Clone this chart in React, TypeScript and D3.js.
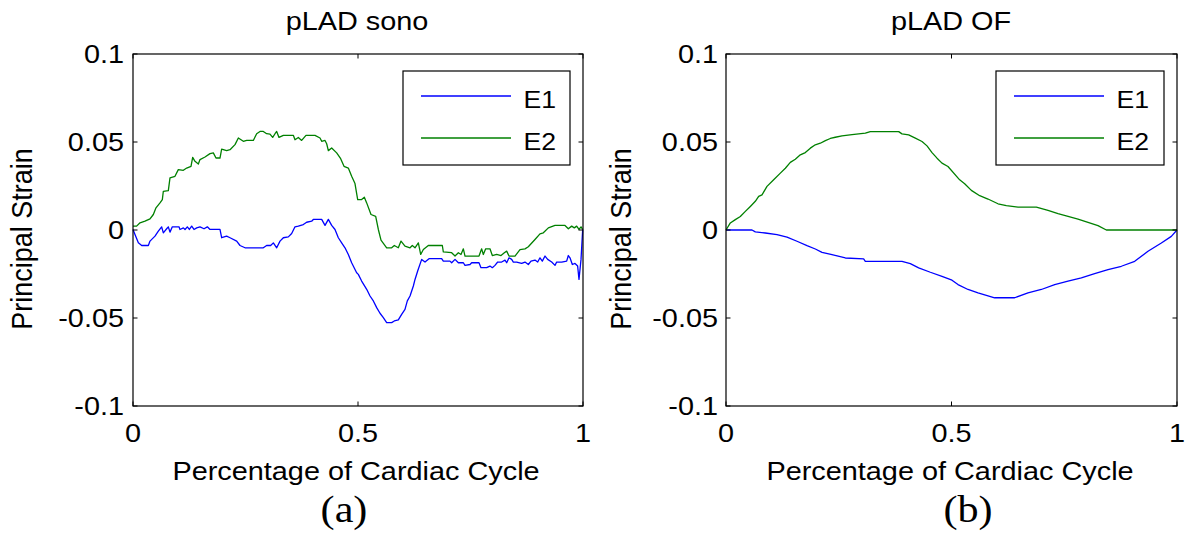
import React from 'react';
import * as d3 from 'd3';

// ---- data ----
const xTicks = [0, 0.5, 1];
const xTickLabels = ['0', '0.5', '1'];
const yTicks = [-0.1, -0.05, 0, 0.05, 0.1];
const yTickLabels = ['-0.1', '-0.05', '0', '0.05', '0.1'];
const seriesNames = ['E1', 'E2'];
const panelTitles = ['pLAD sono', 'pLAD OF'];
const panelTags = ['(a)', '(b)'];
const xLabel = 'Percentage of Cardiac Cycle';
const yLabel = 'Principal Strain';

const sonoE1: [number, number][] = [
  [0, 0.0003], [0.0044, -0.0026], [0.0119, -0.0073], [0.0193, -0.0088], [0.0341, -0.0088], [0.0378, -0.0063],
  [0.0489, -0.0035], [0.0563, -0.0007], [0.0637, 0.0018], [0.0674, -0.0016], [0.0748, 0.0007], [0.0785, 0.0018],
  [0.0822, -0.0012], [0.0874, 0.0018], [0.1022, 0.0018], [0.1044, 0.0003], [0.1119, 0.0012], [0.1156, 0.0003],
  [0.1207, 0.0018], [0.1252, 0.0003], [0.1304, 0.0022], [0.1356, 0.0003], [0.1415, 0.0012], [0.1489, 0.0018],
  [0.1578, 0.0007], [0.1652, 0.0018], [0.1711, 0.0003], [0.1933, 0.0003], [0.197, -0.0044], [0.2081, -0.0035],
  [0.2156, -0.0044], [0.2304, -0.0063], [0.2378, -0.0088], [0.2489, -0.0101], [0.2896, -0.0101], [0.297, -0.0088],
  [0.3059, -0.0088], [0.3119, -0.0073], [0.3193, -0.0101], [0.3267, -0.0063], [0.3341, -0.0044], [0.3452, -0.0039],
  [0.3526, -0.002], [0.36, 0.0018], [0.3674, 0.0022], [0.3785, 0.0031], [0.3859, 0.0044], [0.397, 0.005],
  [0.4007, 0.006], [0.4193, 0.006], [0.4267, 0.0026], [0.4341, 0.006], [0.4415, 0.0026], [0.4489, 0.0003],
  [0.4563, -0.0044], [0.4637, -0.0073], [0.4711, -0.0101], [0.4785, -0.0139], [0.4859, -0.0186], [0.497, -0.0243],
  [0.5007, -0.0252], [0.5081, -0.029], [0.5193, -0.0337], [0.5267, -0.0375], [0.5341, -0.0403], [0.5415, -0.0441],
  [0.5489, -0.0473], [0.5563, -0.0498], [0.5637, -0.0526], [0.5748, -0.0526], [0.5807, -0.0517], [0.5896, -0.0511],
  [0.597, -0.0479], [0.6044, -0.0451], [0.6096, -0.0403], [0.6156, -0.0375], [0.623, -0.0318], [0.6267, -0.0281],
  [0.6326, -0.0233], [0.6415, -0.0167], [0.6489, -0.0182], [0.6578, -0.0163], [0.6859, -0.0163], [0.6896, -0.0177],
  [0.7044, -0.0177], [0.7081, -0.0186], [0.7156, -0.0167], [0.723, -0.0186], [0.7341, -0.0186], [0.7378, -0.0201],
  [0.7489, -0.0196], [0.7526, -0.0186], [0.7689, -0.0186], [0.7733, -0.0214], [0.7859, -0.0214], [0.7933, -0.0205],
  [0.7985, -0.0214], [0.8044, -0.0201], [0.8104, -0.0182], [0.8193, -0.0182], [0.8267, -0.0171], [0.8304, -0.0186],
  [0.8356, -0.0158], [0.8415, -0.0167], [0.8452, -0.0182], [0.8526, -0.0182], [0.8637, -0.019], [0.8711, -0.0182],
  [0.8785, -0.0196], [0.8844, -0.0177], [0.8933, -0.0171], [0.8993, -0.0182], [0.9044, -0.0158], [0.9096, -0.0177],
  [0.9156, -0.0148], [0.9215, -0.0167], [0.9304, -0.0182], [0.9378, -0.0201], [0.9415, -0.0182], [0.9526, -0.0182],
  [0.9637, -0.0177], [0.9674, -0.0145], [0.9711, -0.0158], [0.9763, -0.0196], [0.9822, -0.019], [0.9881, -0.0205],
  [0.9911, -0.0281], [0.9956, -0.0167], [0.9993, 0.0003],
];

const sonoE2: [number, number][] = [
  [0, 0.0022], [0.008, 0.0022], [0.0156, 0.0041], [0.0267, 0.005], [0.0378, 0.0063], [0.0452, 0.0088],
  [0.0511, 0.0126], [0.06, 0.0154], [0.0652, 0.0173], [0.0674, 0.022], [0.0785, 0.0224], [0.0822, 0.0296],
  [0.0933, 0.0305], [0.1007, 0.0343], [0.1119, 0.0339], [0.1193, 0.0352], [0.1289, 0.0362], [0.1326, 0.0413],
  [0.1378, 0.039], [0.1452, 0.0375], [0.1489, 0.04], [0.16, 0.0415], [0.1711, 0.0434], [0.1785, 0.0438],
  [0.1844, 0.0409], [0.1933, 0.0409], [0.197, 0.046], [0.2081, 0.0451], [0.2156, 0.0456], [0.2267, 0.0485],
  [0.2341, 0.0523], [0.2452, 0.0504], [0.2526, 0.0509], [0.2674, 0.0509], [0.2748, 0.0547], [0.2822, 0.056],
  [0.2896, 0.056], [0.297, 0.0547], [0.3044, 0.0545], [0.3104, 0.0526], [0.3156, 0.0547], [0.3193, 0.056],
  [0.3244, 0.0526], [0.3341, 0.0538], [0.3563, 0.0538], [0.36, 0.0513], [0.3674, 0.0526], [0.3748, 0.0509],
  [0.3844, 0.0538], [0.4044, 0.0538], [0.4156, 0.0523], [0.4193, 0.0504], [0.4267, 0.0509], [0.4304, 0.049],
  [0.4341, 0.0451], [0.4415, 0.0466], [0.4526, 0.0438], [0.4615, 0.0405], [0.4689, 0.0362], [0.4785, 0.0352],
  [0.4859, 0.0305], [0.4933, 0.0264], [0.4993, 0.0173], [0.5081, 0.0173], [0.5141, 0.0186], [0.5193, 0.0154],
  [0.5289, 0.0088], [0.5393, 0.0078], [0.5452, 0.0003], [0.5511, -0.0058], [0.5637, -0.0101], [0.5748, -0.0101],
  [0.5807, -0.0088], [0.5896, -0.0101], [0.5956, -0.0063], [0.6044, -0.0092], [0.6156, -0.0101], [0.6207, -0.0088],
  [0.6267, -0.0101], [0.6341, -0.0073], [0.6393, -0.0139], [0.6452, -0.0111], [0.6563, -0.0088], [0.6874, -0.0088],
  [0.6896, -0.0124], [0.7081, -0.0129], [0.7156, -0.0148], [0.723, -0.0129], [0.7289, -0.0139], [0.7341, -0.0107],
  [0.7378, -0.0148], [0.7689, -0.0148], [0.7748, -0.0107], [0.7785, -0.0139], [0.7837, -0.0107], [0.7933, -0.0107],
  [0.7985, -0.0145], [0.8081, -0.0139], [0.8178, -0.0145], [0.8252, -0.0129], [0.8304, -0.012], [0.8356, -0.0148],
  [0.8489, -0.0148], [0.86, -0.0111], [0.8711, -0.0107], [0.8785, -0.0095], [0.8933, -0.0054], [0.9044, -0.0022],
  [0.9119, -0.0016], [0.923, 0.0012], [0.9378, 0.0026], [0.96, 0.0026], [0.9674, 0.0007], [0.9748, 0.0022],
  [0.9807, 0.0012], [0.9859, 0.0022], [0.9911, 0.0003], [0.9956, 0.0018], [0.9993, 0.0003],
];

const ofE1: [number, number][] = [
  [0, 0], [0.0576, 0], [0.065, -0.0011], [0.0872, -0.0017], [0.1131, -0.0026], [0.1353, -0.004],
  [0.1574, -0.0064], [0.1796, -0.0089], [0.1981, -0.0108], [0.2129, -0.0127], [0.235, -0.014], [0.2646, -0.0159],
  [0.3052, -0.0164], [0.3089, -0.0178], [0.3902, -0.0178], [0.4087, -0.0191], [0.4272, -0.0215], [0.4531, -0.024],
  [0.4789, -0.0263], [0.5011, -0.0285], [0.5144, -0.031], [0.5366, -0.0338], [0.5588, -0.0357], [0.5957, -0.0385],
  [0.6401, -0.0385], [0.6696, -0.0357], [0.6992, -0.0338], [0.7288, -0.031], [0.7583, -0.0291], [0.7879, -0.0272],
  [0.8174, -0.0248], [0.847, -0.0225], [0.8766, -0.0206], [0.9062, -0.0178], [0.9357, -0.0121], [0.9653, -0.0074],
  [0.9874, -0.0036], [1, 0],
];

const ofE2: [number, number][] = [
  [0, 0], [0.0096, 0.004], [0.0207, 0.0059], [0.0318, 0.0077], [0.0429, 0.0106], [0.054, 0.0134],
  [0.065, 0.0163], [0.0724, 0.0191], [0.0798, 0.02], [0.0909, 0.0248], [0.1057, 0.0285], [0.1205, 0.0323],
  [0.1316, 0.0351], [0.1426, 0.0384], [0.1537, 0.0402], [0.1648, 0.0427], [0.1759, 0.044], [0.187, 0.0465],
  [0.198, 0.0484], [0.2092, 0.0493], [0.2203, 0.0508], [0.2313, 0.052], [0.2424, 0.0527], [0.2572, 0.0535],
  [0.2794, 0.0542], [0.2942, 0.0546], [0.309, 0.055], [0.32, 0.0559], [0.3829, 0.0559], [0.3902, 0.0546],
  [0.405, 0.054], [0.4198, 0.0522], [0.4346, 0.0503], [0.4457, 0.0478], [0.4568, 0.044], [0.4679, 0.0408],
  [0.4789, 0.038], [0.4922, 0.0361], [0.5181, 0.0285], [0.5292, 0.0263], [0.544, 0.0225], [0.5625, 0.0195],
  [0.5809, 0.0176], [0.6031, 0.0149], [0.6216, 0.0138], [0.6475, 0.013], [0.6881, 0.013], [0.714, 0.0111],
  [0.7362, 0.0093], [0.7584, 0.0077], [0.7805, 0.0062], [0.8027, 0.0043], [0.8248, 0.0025], [0.8433, 0],
  [1, 0],
];

const panelSeries = [
  [sonoE1, sonoE2],
  [ofE1, ofE2],
];

// ---- styling / layout ----
const COLORS = ['#0000ff', '#008000'];
const FONT = '"Liberation Sans", Arial, Helvetica, sans-serif';
const SERIF = '"Liberation Serif", "Times New Roman", serif';
const SX = 1.11;
const W = 1193;
const H = 533;
const TOP = 54;
const BOTTOM = 406;
const panels = [
  { left: 133, right: 583, titleX: 357, xLabelX: 356, tagX: 344, yLabelX: 32, legLeft: 403, legRight: 570, tickLabelRight: 124 },
  { left: 726, right: 1177, titleX: 951, xLabelX: 950, tagX: 968, yLabelX: 631, legLeft: 996, legRight: 1164, tickLabelRight: 718 },
];

function SText(props: { x: number; y: number; anchor?: string; size: number; family?: string; children: React.ReactNode; rotate?: number }) {
  const { x, y, anchor = 'start', size, family = FONT, children, rotate } = props;
  return (
    <text
      transform={`translate(${x},${y}) scale(${SX},1)${rotate ? ` rotate(${rotate})` : ''}`}
      textAnchor={anchor as any}
      fontFamily={family}
      fontSize={size}
      fill="#000"
    >
      {children}
    </text>
  );
}

function Panel({ idx }: { idx: number }) {
  const p = panels[idx];
  const x = d3.scaleLinear().domain([0, 1]).range([p.left, p.right]);
  const y = d3.scaleLinear().domain([-0.1, 0.1]).range([BOTTOM, TOP]);
  const line = d3
    .line<[number, number]>()
    .x((d) => x(d[0]))
    .y((d) => y(d[1]))
    .curve(d3.curveLinear);
  const tl = 4.5;
  return (
    <g>
      {/* series */}
      <g>
        {panelSeries[idx].map((s, i) => (
          <path key={i} d={line(s) || ''} fill="none" stroke={COLORS[i]} strokeWidth={1.3} strokeLinejoin="round" />
        ))}
      </g>
      {/* axes box */}
      <rect x={p.left} y={TOP} width={p.right - p.left} height={BOTTOM - TOP} fill="none" stroke="#000" strokeWidth={1.2} />
      {/* ticks */}
      {xTicks.map((t, i) => (
        <g key={'xt' + i}>
          <line x1={x(t)} x2={x(t)} y1={BOTTOM} y2={BOTTOM - tl} stroke="#000" />
          <line x1={x(t)} x2={x(t)} y1={TOP} y2={TOP + tl} stroke="#000" />
          <SText x={x(t)} y={442} anchor="middle" size={26}>{xTickLabels[i]}</SText>
        </g>
      ))}
      {yTicks.map((t, i) => (
        <g key={'yt' + i}>
          <line x1={p.left} x2={p.left + tl} y1={y(t)} y2={y(t)} stroke="#000" />
          <line x1={p.right} x2={p.right - tl} y1={y(t)} y2={y(t)} stroke="#000" />
          <SText x={p.tickLabelRight} y={y(t) + 9} anchor="end" size={26}>{yTickLabels[i]}</SText>
        </g>
      ))}
      {/* title / labels */}
      <SText x={p.titleX} y={30} anchor="middle" size={26}>{panelTitles[idx]}</SText>
      <SText x={p.xLabelX} y={480} anchor="middle" size={26}>{xLabel}</SText>
      <SText x={p.yLabelX} y={239} anchor="middle" size={27} rotate={-90}>{yLabel}</SText>
      <SText x={p.tagX} y={522} anchor="middle" size={38} family={SERIF}>{panelTags[idx]}</SText>
      {/* legend */}
      <rect x={p.legLeft} y={71} width={p.legRight - p.legLeft} height={94} fill="#fff" stroke="#000" strokeWidth={1.2} />
      {seriesNames.map((n, i) => {
        const ly = i === 0 ? 96 : 138;
        return (
          <g key={n}>
            <line x1={p.legLeft + 18} x2={p.legLeft + 108} y1={ly} y2={ly} stroke={COLORS[i]} strokeWidth={1.3} />
            <SText x={p.legLeft + 120.5} y={ly + 11.5} size={24}>{n}</SText>
          </g>
        );
      })}
    </g>
  );
}

export default function App() {
  return (
    <svg
      width={W}
      height={H}
      viewBox={`0 0 ${W} ${H}`}
      style={{ position: 'absolute', left: 0, top: 0, background: '#fff', display: 'block' }}
    >
      <rect x={0} y={0} width={W} height={H} fill="#fff" />
      <Panel idx={0} />
      <Panel idx={1} />
    </svg>
  );
}
